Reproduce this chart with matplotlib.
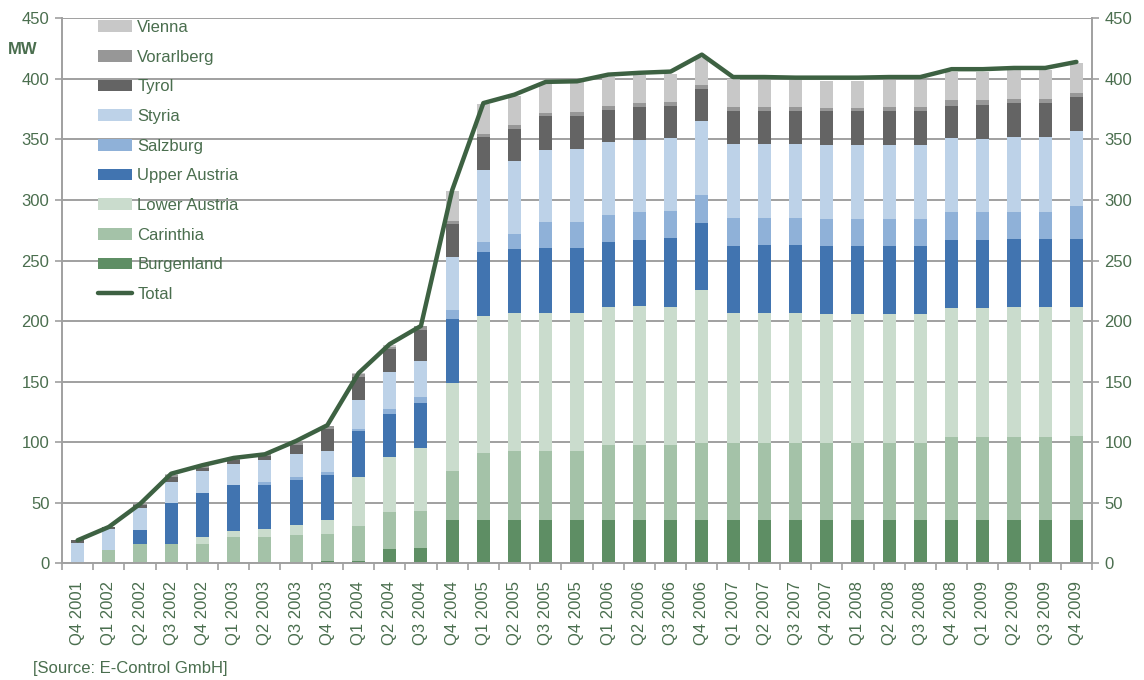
import numpy as np
import matplotlib
matplotlib.use("Agg")
import matplotlib.pyplot as plt
from matplotlib.ticker import FixedLocator

plt.rcParams['font.family'] = ['Liberation Sans', 'DejaVu Sans']

# quarters on the x axis
quarters = ["Q4 2001",
            "Q1 2002", "Q2 2002", "Q3 2002", "Q4 2002",
            "Q1 2003", "Q2 2003", "Q3 2003", "Q4 2003",
            "Q1 2004", "Q2 2004", "Q3 2004", "Q4 2004",
            "Q1 2005", "Q2 2005", "Q3 2005", "Q4 2005",
            "Q1 2006", "Q2 2006", "Q3 2006", "Q4 2006",
            "Q1 2007", "Q2 2007", "Q3 2007", "Q4 2007",
            "Q1 2008", "Q2 2008", "Q3 2008", "Q4 2008",
            "Q1 2009", "Q2 2009", "Q3 2009", "Q4 2009"]

# installed capacity per province (MW)
burgenland = [0, 0, 0, 0, 0, 0, 0, 0, 1.5, 1.5, 11.5, 13, 35.5,
              35.5, 35.5, 35.5, 35.5, 35.5, 35.5, 35.5, 35.5, 35.5, 35.5, 35.5, 35.5,
              35.5, 35.5, 35.5, 35.5, 35.5, 35.5, 35.5, 35.5]
carinthia = [0, 11, 16, 16, 16, 21.5, 21.5, 23, 23, 29.5, 30.5, 30.5, 40.5,
             55.5, 57, 57, 57, 62, 62, 62, 64, 64, 64, 64, 64,
             64, 64, 64, 69, 69, 69, 69, 70]
lower_austria = [0, 0, 0, 0, 5.5, 5.5, 6.5, 9, 11, 40.5, 45.5, 52, 72.5,
                 113.5, 114.5, 114.5, 114.5, 114.5, 115, 114.5, 126.5, 107.5, 107.5, 107.5, 106.5,
                 106.5, 106.5, 106.5, 106.5, 106.5, 107.5, 107.5, 106.5]
upper_austria = [0, 0, 11.5, 34, 36.5, 37.5, 37, 37, 37, 37.5, 36, 36.5, 53.5,
                 52.5, 52.5, 53.5, 53.5, 53.5, 54.5, 56.5, 55, 55, 56, 56, 56,
                 56, 56, 56, 56, 56, 56, 56, 56]
salzburg = [0, 0, 0, 0, 0, 0, 2.5, 2, 2.5, 1.5, 4, 5, 7,
            8.5, 12.5, 21.5, 21.5, 22, 23, 22.5, 23, 23, 22, 22, 22.5,
            22.5, 22.5, 22.5, 23, 23, 22, 22, 27]
styria = [17, 17, 18, 17.5, 18, 17.5, 17.5, 19, 18, 24.5, 30.5, 30, 44,
          59.5, 60, 59, 60, 60.5, 59.5, 60, 61, 61, 61, 61, 61,
          61, 61, 61, 61, 60.5, 62, 62, 62]
tyrol = [2, 2, 3, 3.5, 2.5, 3, 4, 8, 18, 19, 19, 26, 27,
         27, 27, 28, 27, 26, 27, 26.5, 27, 27.5, 27.5, 27.5, 28,
         28, 28, 28, 27, 28, 28, 28, 28]
vorarlberg = [0, 0, 0.5, 2, 1.5, 1, 1, 2, 2.5, 2.5, 2, 3, 3,
              2.5, 3, 3, 3.5, 3.5, 3.5, 3.5, 3, 3, 3, 3, 2.5,
              2.5, 3, 3, 4.5, 4, 3, 3, 3]
vienna = [0, 0, 0, 1, 0, 0, 0, 0, 0, 0.5, 1, 0, 24,
          24.5, 24, 24, 24.5, 24, 23.5, 23, 22, 23, 22.5, 22.5, 22.5,
          22.5, 22.5, 22.5, 23, 23, 24, 24, 25]
total = [19, 30, 49, 74, 81, 87, 90, 101, 114, 157, 181, 196, 308,
         380, 387, 397.5, 398, 403.5, 405, 406, 420, 401.5, 401.5, 401, 401,
         401, 401.5, 401.5, 408, 408, 409, 409, 414]

series = [
    ("Burgenland", burgenland, "#5e8e64"),
    ("Carinthia", carinthia, "#a4c2a8"),
    ("Lower Austria", lower_austria, "#cadccd"),
    ("Upper Austria", upper_austria, "#4174b0"),
    ("Salzburg", salzburg, "#8fb1d8"),
    ("Styria", styria, "#bdd2e8"),
    ("Tyrol", tyrol, "#646464"),
    ("Vorarlberg", vorarlberg, "#979797"),
    ("Vienna", vienna, "#c8c8c8"),
]

txt_color = "#4a6e4e"
axis_color = "#a0a0a0"

fig = plt.figure(figsize=(11.44, 6.8), dpi=100)
ax = fig.add_axes([62 / 1144, 1 - 563.3 / 680, 1030 / 1144, (563.3 - 18.3) / 680])

x = np.arange(len(quarters))
bottom = np.zeros(len(quarters))
handles = {}
for name, vals, col in series:
    vals = np.array(vals, dtype=float)
    b = ax.bar(x, vals, width=0.42, bottom=bottom, color=col, linewidth=0, zorder=2)
    handles[name] = b
    bottom += vals

line, = ax.plot(x, total, color="#3d6142", lw=3.2, solid_capstyle="round",
                solid_joinstyle="round", zorder=3)

ax.set_xlim(-0.5, len(quarters) - 0.5)
ax.set_ylim(0, 450)
ax.set_yticks(np.arange(0, 451, 50))
ax.yaxis.grid(True, color=axis_color, lw=1.4, zorder=0)
ax.set_axisbelow(True)

ax.set_xticks(x)
ax.set_xticklabels(quarters, rotation=90, fontsize=12, color=txt_color)
ax.xaxis.set_minor_locator(FixedLocator(np.arange(-0.5, len(quarters), 1.0)))
ax.tick_params(axis="x", which="major", length=0, pad=13)
ax.tick_params(axis="x", which="minor", length=5, color=axis_color, width=1.2)
ax.tick_params(axis="y", which="major", length=5, color=axis_color, width=1.2,
               labelsize=12, labelcolor=txt_color, right=True, labelright=True, pad=4)

for side in ["left", "right", "bottom"]:
    ax.spines[side].set_color(axis_color)
    ax.spines[side].set_linewidth(1.4)
ax.spines["top"].set_visible(False)

order = ["Vienna", "Vorarlberg", "Tyrol", "Styria", "Salzburg",
         "Upper Austria", "Lower Austria", "Carinthia", "Burgenland"]
leg = ax.legend([handles[n] for n in order] + [line], order + ["Total"],
                loc="upper left", bbox_to_anchor=(0.035, 0.997), frameon=False,
                fontsize=12, labelspacing=0.88, handlelength=2.05, handleheight=0.72,
                handletextpad=0.3, borderpad=0, borderaxespad=0)
for t in leg.get_texts():
    t.set_color(txt_color)

fig.text(8 / 1144, 1 - 50 / 680, "MW", fontsize=12, fontweight="bold",
         color=txt_color, va="center", ha="left")
fig.text(33 / 1144, 1 - 668 / 680, "[Source: E-Control GmbH]", fontsize=12,
         color=txt_color, va="center", ha="left")

fig.savefig("out.png", dpi=100)
